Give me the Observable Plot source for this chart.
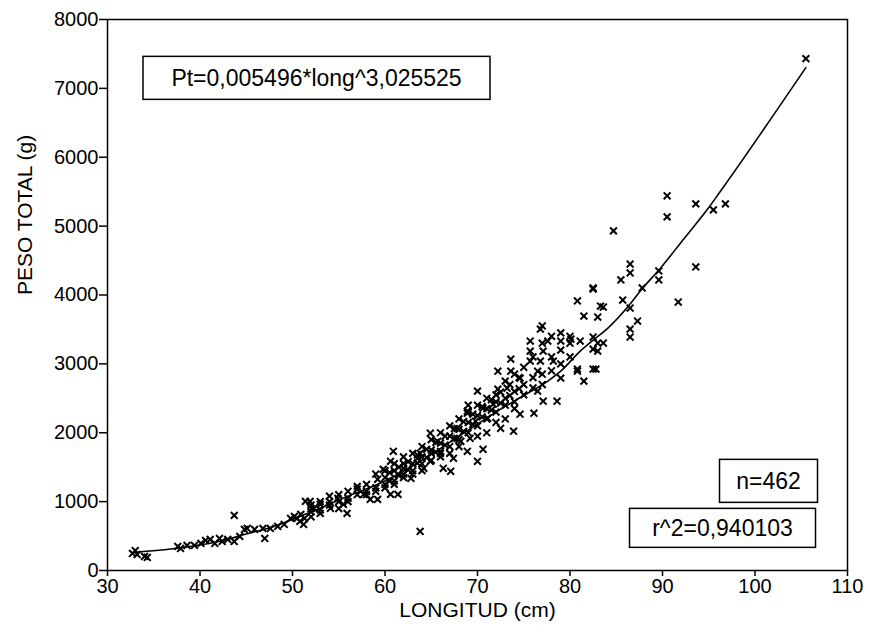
<!DOCTYPE html>
<html>
<head>
<meta charset="utf-8">
<script src="https://cdn.jsdelivr.net/npm/d3@7"></script>
<script src="https://cdn.jsdelivr.net/npm/@observablehq/plot@0.6"></script>
<style>
  html, body { margin: 0; padding: 0; background: #fff; }
  #chart svg { display: block; }
</style>
</head>
<body>
<div id="chart"></div>
<script>
// Observed points: length (cm) and total weight (g)
const longitud = [
  32.7,33.2,34.0,34.3,33.0,37.6,37.9,38.6,39.4,40.1,40.6,41.1,41.6,42.1,42.4,43.0,43.7,44.3,43.7,44.8,
  45.1,45.9,47.0,46.8,47.6,48.4,49.1,49.8,50.2,50.8,51.3,51.4,50.5,51.2,50.9,51.9,52.3,53.0,54.1,54.9,
  55.5,55.9,57.0,57.7,58.4,59.2,60.6,61.4,59.2,59.8,60.6,60.9,61.4,62.0,62.8,63.5,63.8,63.8,64.2,64.9,
  64.9,65.7,66.0,66.3,67.1,67.4,67.8,68.2,68.9,69.2,70.0,69.8,70.0,70.6,70.6,68.9,67.8,68.9,71.1,71.7,
  72.2,73.2,72.5,73.9,74.6,76.1,76.5,77.1,78.6,72.2,73.6,74.6,76.5,73.6,75.7,76.8,78.2,75.7,77.1,75.7,
  77.6,76.8,79.0,80.1,81.1,83.0,83.0,81.5,83.3,82.5,80.8,80.8,81.5,82.8,79.0,
  84.7,86.5,86.5,85.5,82.5,83.6,83.0,86.5,87.3,86.5,86.5,85.7,87.8,89.6,89.6,91.7,82.5,83.6,82.5,82.5,
  80.8,93.6,90.5,90.5,93.6,95.5,96.8,105.5,
  52,52,52,52,53,53,53,54,54,54,55,55,55,56,56,56,57,57,58,58,58,59,59,59,
  60,60,60,60,61,61,61,61,62,62,62,62,63,63,63,63,64,64,64,64,65,65,65,65,
  66,66,66,66,67,67,67,67,68,68,68,68,69,69,69,69,70,70,70,70,71,71,71,71,
  72,72,72,72,73,73,73,73,74,74,74,74,75,75,75,76,76,76,77,77,77,77,78,78,78,
  79,79,79,80,80,80,
  60.5,61.5,62.5,63.5,64.5,65.5,66.5,67.5,68.5,69.5,70.5,71.5,72.5,73.5,74.5,
  60.5,61.5,62.5,63.5,64.5,65.5,66.5,67.5,68.5,69.5,70.5,71.5,72.5,73.5,74.5
];
const pesoTotal = [
  247,233,204,189,290,349,320,364,364,393,436,451,393,465,422,451,422,495,800,596,
  611,596,465,611,611,640,669,756,785,713,756,1004,756,669,815,1004,902,829,902,1047,
  960,829,1222,1105,1033,1033,1105,1105,1324,1469,1585,1731,1396,1484,1338,1629,1702,567,1484,1585,
  1993,1876,1731,1484,1440,1629,2065,1876,1731,1920,1585,2167,2604,2356,1760,2313,1920,2284,2211,2415,
  2633,2647,2065,2022,2269,2284,2604,2458,2458,2894,2894,2793,2894,3069,3040,3040,3040,3185,3185,3331,
  3331,3505,3331,3360,3331,3302,3185,3695,3840,4087,3913,2924,2749,2924,2793,
  4931,4450,4320,4218,4102,3825,3680,3811,3622,3505,3389,3927,4102,4349,4218,3898,3389,3302,3214,2924,
  2894,4407,5440,5134,5323,5236,5323,7432,
  850,900,780,950,880,960,1000,950,1000,1080,1000,1100,900,1050,1150,1000,1100,1180,1150,1250,1100,1200,1400,1150,
  1250,1350,1450,1200,1300,1450,1550,1250,1350,1550,1650,1400,1450,1550,1700,1400,1550,1650,1800,1450,1600,1750,1900,1700,
  1700,1850,2000,1650,1800,1950,2100,1700,1900,2050,2200,1800,2000,2150,2300,2400,2100,2250,2400,1950,2200,2350,2500,2000,
  2300,2450,2550,2150,2400,2500,2750,2200,2450,2600,2850,2350,2550,2700,2950,2650,2800,3100,2700,2850,3300,3550,2900,3100,3400,
  3000,3200,3450,3100,3300,3400,
  1300,1380,1460,1560,1640,1720,1820,1920,2020,2120,2230,2330,2430,2540,2640,
  1420,1500,1580,1680,1760,1860,1950,2060,2160,2270,2380,2480,2590,2700,2800
];

// Fitted curve
const curveL = [33, 38, 42, 45, 48, 52, 56, 60, 64, 68, 72, 75, 77.6, 79, 81.1, 82.5, 84.1, 86.5, 87.6, 89.8, 92.3, 94.9, 96.3, 105.5];
const curveP = [265, 330, 420, 530, 640, 850, 1080, 1300, 1600, 1950, 2300, 2540, 2750, 2894, 3185, 3345, 3520, 3869, 4058, 4393, 4814, 5251, 5513, 7302];

const xTicks = [30, 40, 50, 60, 70, 80, 90, 100, 110];
const yTicks = [0, 1000, 2000, 3000, 4000, 5000, 6000, 7000, 8000];

const equationText = "Pt=0,005496*long^3,025525";
const nText = "n=462";
const r2Text = "r^2=0,940103";
const xLabel = "LONGITUD (cm)";
const yLabel = "PESO TOTAL (g)";

const points = longitud.map((l, i) => ({l, p: pesoTotal[i]}));
const curve = curveL.map((l, i) => ({l, p: curveP[i]}));

const chart = Plot.plot({
  width: 870,
  height: 636,
  marginLeft: 107,
  marginRight: 23,
  marginTop: 19,
  marginBottom: 66,
  style: {fontFamily: "'Liberation Sans', Arial, sans-serif", color: "#000", background: "#fff"},
  x: {domain: [30, 110]},
  y: {domain: [0, 8000]},
  marks: [
    Plot.frame({stroke: "#000", strokeWidth: 1.5}),
    Plot.axisX({ticks: xTicks, tickFormat: d => String(d), tickSize: 6, tickPadding: 2, fontSize: 20, label: null, stroke: "#000", strokeWidth: 1.5}),
    Plot.axisY({ticks: yTicks, tickFormat: d => String(d), tickSize: 8, tickPadding: 1, fontSize: 20, label: null, stroke: "#000", strokeWidth: 1.5}),
    Plot.line(curve, {x: "l", y: "p", stroke: "#000", strokeWidth: 1.6, curve: "monotone-x"}),
    Plot.dot(points, {x: "l", y: "p", symbol: "times", r: 3.2, stroke: "#000", strokeWidth: 2}),
    Plot.text([xLabel], {frameAnchor: "bottom", dy: 40, fontSize: 21, lineAnchor: "middle", fill: "#000"}),
    Plot.text([yLabel], {frameAnchor: "left", dx: -82, rotate: -90, fontSize: 21, lineAnchor: "middle", fill: "#000"}),
    Plot.text([equationText], {frameAnchor: "top-left", dx: 209, dy: 59, fontSize: 23, textAnchor: "middle", lineAnchor: "middle", fill: "#000", className: "boxed"}),
    Plot.text([nText], {frameAnchor: "bottom-right", dx: -79, dy: -89, fontSize: 23, textAnchor: "middle", lineAnchor: "middle", fill: "#000", className: "boxed"}),
    Plot.text([r2Text], {frameAnchor: "bottom-right", dx: -125, dy: -42, fontSize: 23, textAnchor: "middle", lineAnchor: "middle", fill: "#000", className: "boxed"})
  ]
});

document.getElementById("chart").appendChild(chart);

// Draw boxes round the annotation texts
const boxSizes = {[equationText]: [347, 43], [nText]: [98, 43], [r2Text]: [186, 39]};
chart.querySelectorAll("g.boxed text").forEach(t => {
  const b = t.getBBox();
  const [w, h] = boxSizes[t.textContent] || [b.width + 30, b.height + 14];
  const cx = b.x + b.width / 2, cy = b.y + b.height / 2;
  const ns = "http://www.w3.org/2000/svg";
  const r = document.createElementNS(ns, "rect");
  r.setAttribute("x", cx - w / 2);
  r.setAttribute("y", cy - h / 2);
  r.setAttribute("width", w);
  r.setAttribute("height", h);
  r.setAttribute("fill", "#fff");
  r.setAttribute("stroke", "#000");
  r.setAttribute("stroke-width", 1.5);
  const tr = t.getAttribute("transform");
  if (tr) r.setAttribute("transform", tr);
  t.parentNode.insertBefore(r, t);
});
</script>
</body>
</html>
